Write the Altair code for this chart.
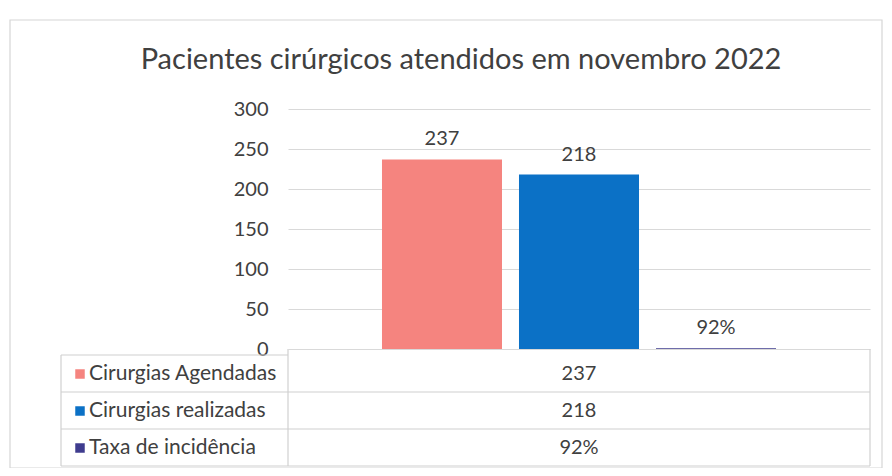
import altair as alt
import pandas as pd

# ---- data ----
series = ["Cirurgias Agendadas", "Cirurgias realizadas", "Taxa de incidência"]
values = [237, 218, 0.92]
colors = ["#f5847f", "#0b71c6", "#3f3c8e"]
y_ticks = [0, 50, 100, 150, 200, 250, 300]
title_text = "Pacientes cirúrgicos atendidos em novembro 2022"

df = pd.DataFrame({"serie": series, "valor": values, "row": list(range(len(series)))})

FONT = "Lato"
TXT = "#404040"
GRID = "#d9d9d9"
W, H = 582, 240

label_expr = "datum.serie == 'Taxa de incidência' ? format(datum.valor, '.0%') : format(datum.valor, 'd')"

base = alt.Chart(df).transform_calculate(label=label_expr)

x_enc = alt.X("serie:N", sort=series, axis=None,
              scale=alt.Scale(paddingInner=0.124, paddingOuter=0.686))
color_enc = alt.Color("serie:N", sort=series,
                      scale=alt.Scale(domain=series, range=colors), legend=None)
y_enc = alt.Y("valor:Q", scale=alt.Scale(domain=[0, 300], nice=False),
              axis=alt.Axis(values=y_ticks, title=None, domain=False, ticks=False,
                            labelPadding=20, gridColor=GRID, gridWidth=1,
                            labelOverlap=False, tickCount=7,
                            labelFont=FONT, labelFontSize=20, labelColor=TXT))

one = pd.DataFrame({"k": [0]})

border = alt.Chart(one).mark_rect(fillOpacity=0, stroke="#d6d6d6", strokeWidth=1.2).encode(
    x=alt.value(-278), x2=alt.value(594), y=alt.value(-89), y2=alt.value(359))

bars = base.mark_bar().encode(x=x_enc, y=y_enc, color=color_enc)

bar_labels = base.mark_text(dy=-20, font=FONT, fontSize=20, color=TXT, baseline="middle").encode(
    x=x_enc, y=y_enc, text="label:N")

# ---- data table below the plot ----
LINE = "#d0d0d0"
rules = []
def rule(x1, x2, y1, y2):
    return alt.Chart(one).mark_rule(color=LINE, strokeWidth=1.2).encode(
        x=alt.value(x1), x2=alt.value(x2), y=alt.value(y1), y2=alt.value(y2))

LEFT = -227
row_lines = [283, 320, 357]
rules.append(rule(LEFT, 0, 246, 246))
for ry in row_lines:
    rules.append(rule(LEFT, W, ry, ry))
rules.append(rule(LEFT, LEFT, 246, 357))
rules.append(rule(0, 0, H, 357))
rules.append(rule(W, W, H, 357))

row_centers = [265, 302, 339]
table_layers = []
for i, cy in enumerate(row_centers):
    sub = base.transform_filter(alt.datum.row == i)
    table_layers.append(sub.mark_point(shape="square", filled=True, size=90, opacity=1).encode(
        x=alt.value(-208), y=alt.value(cy), color=color_enc))
    table_layers.append(sub.mark_text(align="left", baseline="middle", font=FONT,
                                      fontSize=21, color=TXT).encode(
        x=alt.value(-199), y=alt.value(cy), text="serie:N"))
    table_layers.append(sub.mark_text(align="center", baseline="middle", font=FONT,
                                      fontSize=20, color=TXT).encode(
        x=alt.value(W / 2), y=alt.value(cy), text="label:N"))

chart = alt.layer(border, bars, bar_labels, *rules, *table_layers).properties(
    width=W, height=H,
    title=alt.TitleParams(title_text, font=FONT, fontSize=29, fontWeight="normal",
                          color=TXT, anchor="middle", dx=-118, offset=-56),
    autosize=alt.AutoSizeParams(type="none"),
    padding={"left": 280, "top": 101, "right": 14, "bottom": 119},
).configure_view(strokeWidth=0)

chart.save("out.html", embed_options={"renderer": "svg", "actions": False})
